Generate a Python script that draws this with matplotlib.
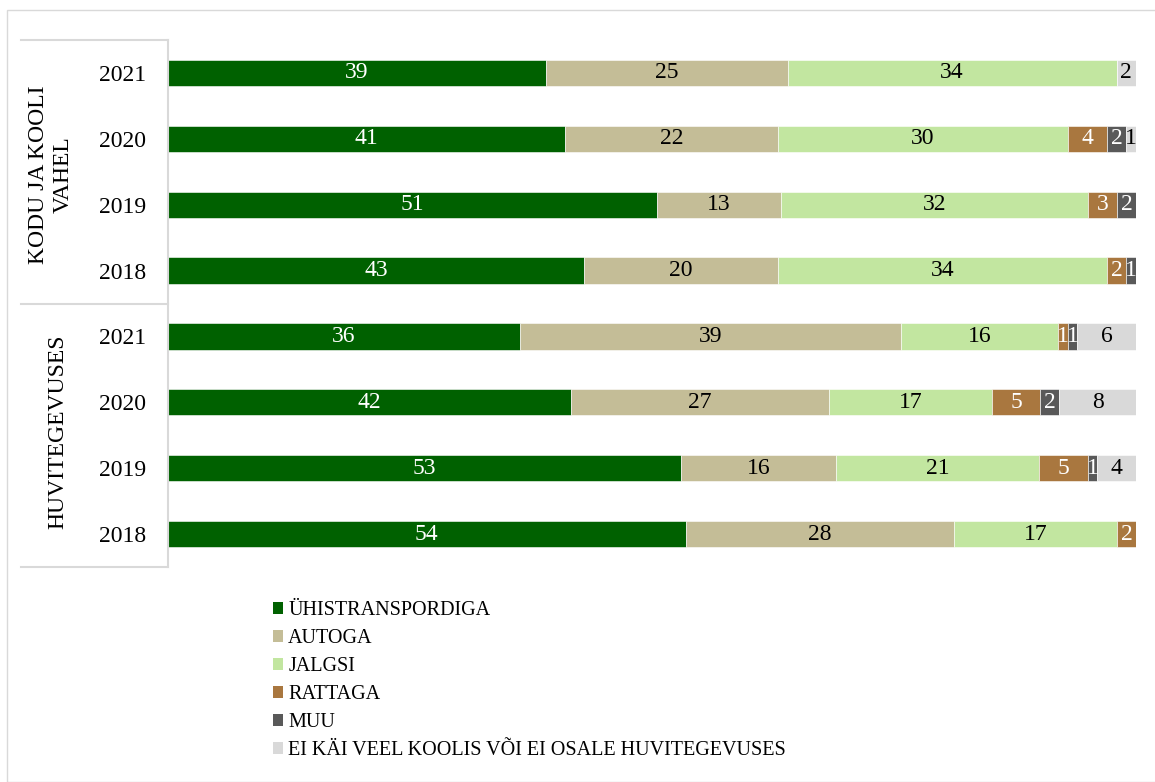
import matplotlib
matplotlib.use("Agg")
import matplotlib.pyplot as plt
from matplotlib.lines import Line2D
from matplotlib.patches import Rectangle
import numpy as np

plt.rcParams['font.family'] = ['Liberation Serif', 'DejaVu Serif']

# andmed (ridade kaupa ülevalt alla)
years = ['2021', '2020', '2019', '2018', '2021', '2020', '2019', '2018']
groups = ['KODU JA KOOLI\nVAHEL', 'HUVITEGEVUSES']
series = ['ÜHISTRANSPORDIGA', 'AUTOGA', 'JALGSI', 'RATTAGA', 'MUU',
          'EI KÄI VEEL KOOLIS VÕI EI OSALE HUVITEGEVUSES']
yhistransport = [39, 41, 51, 43, 36, 42, 53, 54]
autoga = [25, 22, 13, 20, 39, 27, 16, 28]
jalgsi = [34, 30, 32, 34, 16, 17, 21, 17]
rattaga = [0, 4, 3, 2, 1, 5, 5, 2]
muu = [0, 2, 2, 1, 1, 2, 1, 0]
ei_kai = [2, 1, 0, 0, 6, 8, 4, 0]

colors = ['#006100', '#C4BD97', '#C2E6A0', '#A9773F', '#595959', '#D9D9D9']
text_colors = ['white', 'black', 'black', 'white', 'white', 'black']

W, H = 1155, 782
fig = plt.figure(figsize=(W / 100, H / 100), dpi=100)

# raam ümber joonise
fig.patches.append(Rectangle((7 / W, 0), 1.0, 1 - 10 / H, transform=fig.transFigure,
                             fill=False, edgecolor='#D9D9D9', linewidth=1))

ax = fig.add_axes([168 / W, 1 - 567 / H, (1136 - 168) / W, (567 - 40) / H])

data = np.array([yhistransport, autoga, jalgsi, rattaga, muu, ei_kai], dtype=float)
totals = data.sum(axis=0)
pct = data / totals * 100  # 100% tulpdiagramm
ypos = np.arange(len(years))

left = np.zeros(len(years))
for k in range(len(series)):
    ax.barh(ypos, pct[k], left=left, height=0.4, color=colors[k],
            edgecolor='white', linewidth=0.4, label=series[k])
    for i in range(len(years)):
        if data[k, i] > 0:
            ax.text(left[i] + pct[k, i] / 2, ypos[i], '%d' % data[k, i],
                    ha='center', va='center', fontsize=17, color=text_colors[k])
    left += pct[k]

ax.set_xlim(0, 100)
ax.set_ylim(len(years) - 0.5, -0.5)
ax.set_xticks([])
ax.set_yticks(ypos)
ax.set_yticklabels(years, fontsize=17)
ax.tick_params(axis='y', length=0, pad=16)
for s in ['top', 'right', 'bottom']:
    ax.spines[s].set_visible(False)
ax.spines['left'].set_color('#D9D9D9')
ax.spines['left'].set_linewidth(1.5)

# rühmade eraldusjooned vasakul
for yb in [-0.5, 3.5, 7.5]:
    ax.add_line(Line2D([-147 / 9.68, 0], [yb, yb], color='#D9D9D9', linewidth=1.5,
                       clip_on=False))
ax.text(-117 / 9.68, 1.55, groups[0], rotation=90, ha='center', va='center',
        fontsize=17, linespacing=1.25)
ax.text(-110 / 9.68, 5.45, groups[1], rotation=90, ha='center', va='center',
        fontsize=17)

leg = fig.legend(loc='upper left', bbox_to_anchor=(265 / W, 1 - 593 / H), frameon=False,
                 fontsize=14.5, handlelength=0.5, handleheight=0.5, handletextpad=0.25,
                 labelspacing=0.45, borderaxespad=0)
for h in leg.legend_handles:
    h.set_edgecolor('none')

fig.savefig('out.png', dpi=100)
